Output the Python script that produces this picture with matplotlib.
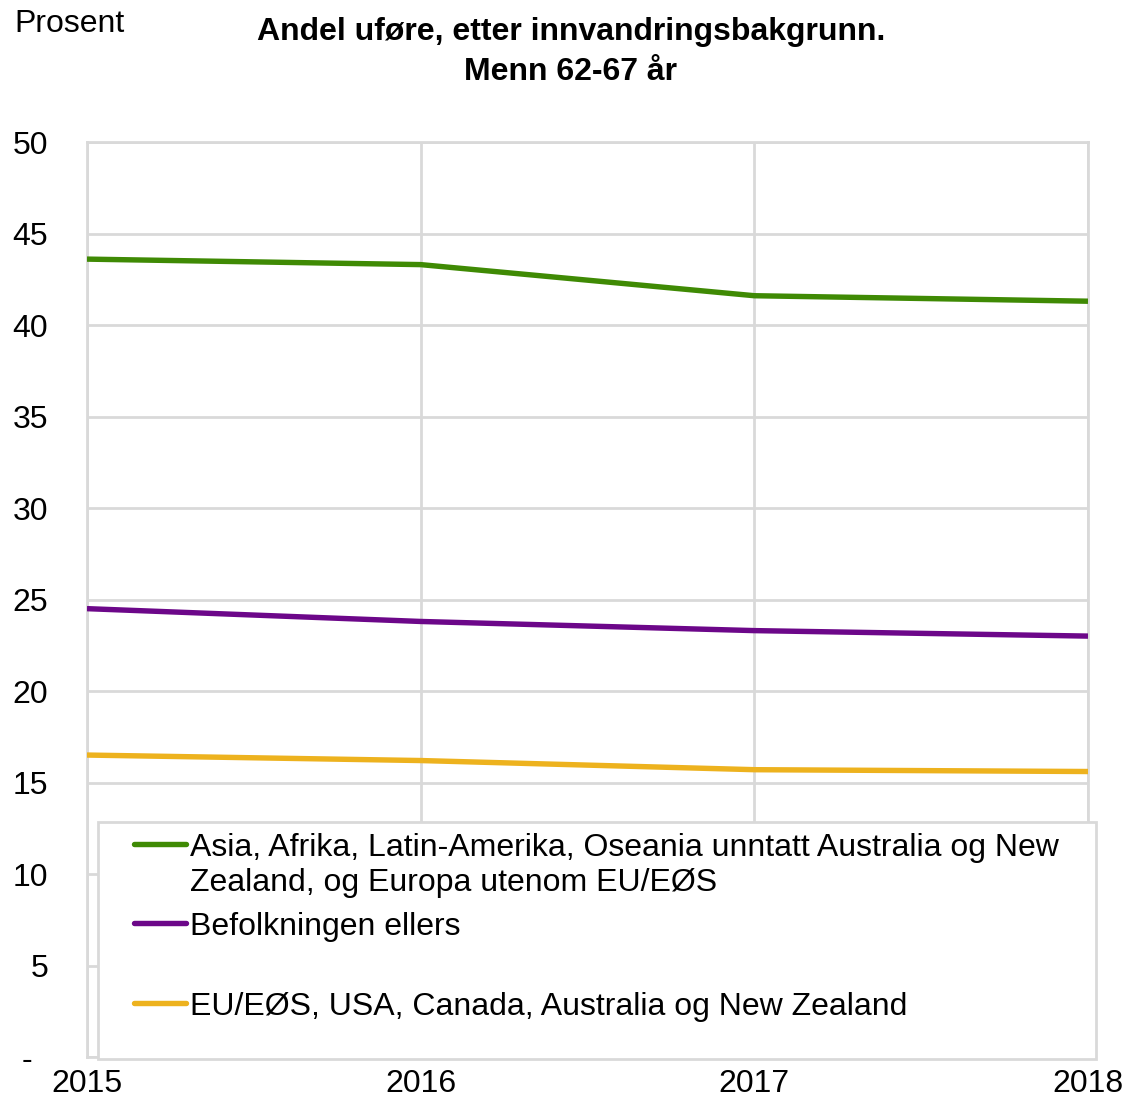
import matplotlib
matplotlib.use("Agg")
import matplotlib.pyplot as plt
from matplotlib.lines import Line2D
from matplotlib.patches import Rectangle
import matplotlib.transforms as mtransforms

plt.rcParams['font.family'] = ['Liberation Sans', 'DejaVu Sans']

years = [2015, 2016, 2017, 2018]
asia_afrika = [43.6, 43.3, 41.6, 41.3]
befolkningen = [24.5, 23.8, 23.3, 23.0]
eu_eos = [16.5, 16.2, 15.7, 15.6]
labels = [
    "Asia, Afrika, Latin-Amerika, Oseania unntatt Australia og New\nZealand, og Europa utenom EU/EØS",
    "Befolkningen ellers",
    "EU/EØS, USA, Canada, Australia og New Zealand",
]
colors = ["#3f8a04", "#6c0789", "#edb21e"]
yticks = [0, 5, 10, 15, 20, 25, 30, 35, 40, 45, 50]
ytick_labels = ["-", "5", "10", "15", "20", "25", "30", "35", "40", "45", "50"]

W, H = 1128, 1100
FS = 23
fig = plt.figure(figsize=(W/100, H/100), dpi=100)
ax = fig.add_axes([87/W, 1 - 1057/H, (1088-87)/W, (1057-142)/H])

series = [asia_afrika, befolkningen, eu_eos]
for vals, c, lab in zip(series, colors, labels):
    ax.plot(years, vals, color=c, lw=3.9, label=lab, solid_capstyle='butt', zorder=3)

ax.set_xlim(2015, 2018)
ax.set_ylim(0, 50)
ax.set_xticks(years)
ax.set_xticklabels([str(y) for y in years], fontsize=FS)
ax.set_yticks(yticks)
ax.set_yticklabels(ytick_labels, fontsize=FS)
ax.grid(True, color="#d9d9d9", lw=2)
ax.set_axisbelow(True)
for s in ax.spines.values():
    s.set_color("#d9d9d9")
    s.set_linewidth(2)
ax.tick_params(length=0)
ax.tick_params(axis='y', pad=28)
ax.tick_params(axis='x', pad=9)
# shift the "-" label left as in the reference
lbl0 = ax.get_yticklabels()[0]
lbl0.set_transform(lbl0.get_transform() + mtransforms.ScaledTranslation(-16/100, 0, fig.dpi_scale_trans))

# legend drawn manually to match the reference layout
rect = Rectangle((98/W, 1 - 1059/H), (1096-98)/W, (1059-822)/H, transform=fig.transFigure,
                 facecolor='white', edgecolor='#d9d9d9', lw=2, zorder=5, clip_on=False)
ax.add_artist(rect)
row_y = [844, 923, 1003]
for c, lab, y in zip(colors, labels, row_y):
    fy = 1 - y/H
    ln = Line2D([134/W, 186/W], [fy, fy], transform=fig.transFigure, color=c, lw=3.9,
                solid_capstyle='round', zorder=6)
    ax.add_artist(ln)
    ln.set_clip_on(False)
    t = ax.text(190/W, 1 - (y - 11)/H, lab, transform=fig.transFigure, fontsize=FS,
                ha='left', va='top', linespacing=1.23, zorder=7)
    t.set_clip_on(False)

fig.text(14/W, 1 - 24/H, "Prosent", fontsize=FS, va='center', ha='left')
fig.text(571/W, 1 - 52/H, "Andel uføre, etter innvandringsbakgrunn.\nMenn 62-67 år", fontsize=FS,
         fontweight='bold', ha='center', va='center', linespacing=1.4)

fig.savefig("out.png", dpi=100)
